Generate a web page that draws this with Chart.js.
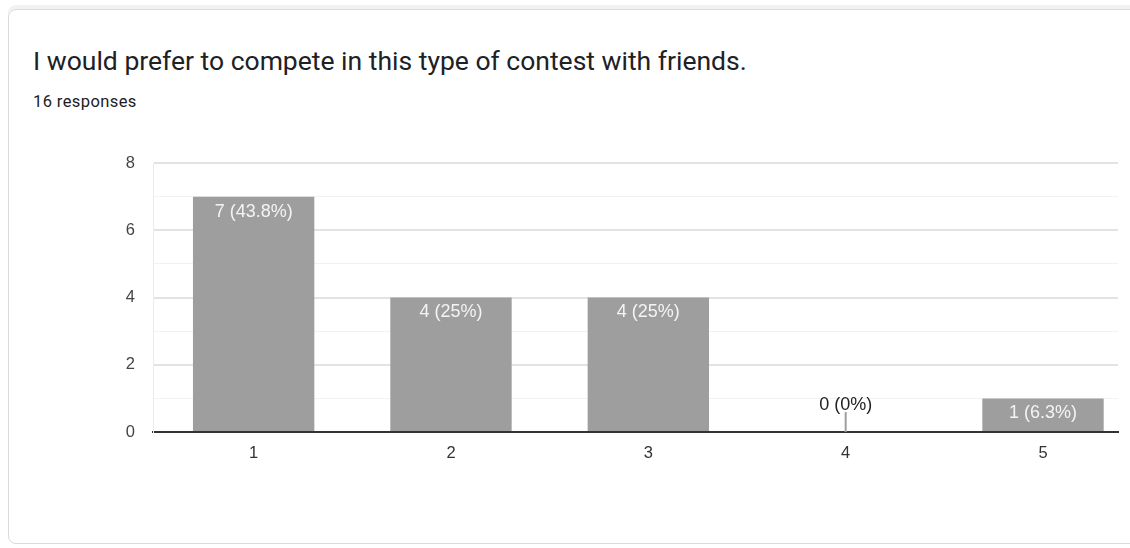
<!DOCTYPE html>
<html>
<head>
<meta charset="utf-8">
<script src="https://cdn.jsdelivr.net/npm/chart.js@4/dist/chart.umd.min.js"></script>
<style>
  html, body { margin: 0; padding: 0; background: #fff; overflow: hidden; }
  body { width: 1130px; height: 548px; position: relative; }
  .card {
    position: absolute; left: 8px; top: 9px; width: 1140px; height: 535px;
    border: 1px solid #dadada; border-radius: 8px; box-sizing: border-box;
    box-shadow: 0 -4px 0 #f2f2f2;
  }
  .titulo {
    position: absolute; left: 33px; top: 45px; margin: 0;
    font: 400 26.5px Roboto, sans-serif; color: #202124; white-space: nowrap;
  }
  .respostas {
    position: absolute; left: 33px; top: 92px; margin: 0;
    font: 400 16.5px Roboto, sans-serif; letter-spacing: 0.4px; color: #202124;
  }
  #grafico { position: absolute; left: 0; top: 0; }
</style>
</head>
<body>
<div class="card"></div>
<p class="titulo">I would prefer to compete in this type of contest with friends.</p>
<p class="respostas">16 responses</p>
<canvas id="grafico" width="1130" height="548"></canvas>
<script>
// dados da pergunta
var categorias = ['1', '2', '3', '4', '5'];
var respostas = [7, 4, 4, 0, 1];
var totalRespostas = 16;
var ticksY = [0, 2, 4, 6, 8];

var pontos = categorias.map(function (c, i) {
    return { x: Number(c), y: respostas[i] };
});

function rotulo(v) {
    var pct = Math.round(v / totalRespostas * 1000) / 10;
    return v + ' (' + pct + '%)';
}

// desenha "n (x%)" dentro da barra, ou acima dela quando a barra é zero
var rotulosBarras = {
    id: 'rotulosBarras',
    afterDatasetsDraw: function (chart) {
        var ctx = chart.ctx;
        var meta = chart.getDatasetMeta(0);
        ctx.save();
        ctx.font = '18px "Liberation Sans", Arial, sans-serif';
        ctx.textAlign = 'center';
        ctx.textBaseline = 'middle';
        meta.data.forEach(function (bar, i) {
            var v = respostas[i];
            if (v > 0) {
                ctx.fillStyle = '#f4f4f4';
                ctx.fillText(rotulo(v), bar.x, bar.y + 15);
            } else {
                ctx.strokeStyle = '#9e9e9e';
                ctx.lineWidth = 2;
                ctx.beginPath();
                ctx.moveTo(bar.x, bar.y);
                ctx.lineTo(bar.x, bar.y - 20);
                ctx.stroke();
                ctx.fillStyle = '#222';
                ctx.fillText(rotulo(v), bar.x, bar.y - 27);
            }
        });
        ctx.restore();
    }
};

var ctx = document.getElementById('grafico').getContext('2d');

new Chart(ctx, {
    type: 'bar',
    data: {
        datasets: [{
            data: pontos,
            backgroundColor: '#9e9e9e',
            barPercentage: 0.615,
            categoryPercentage: 1
        }]
    },
    options: {
        responsive: false,
        animation: false,
        layout: { padding: { left: 110, right: 12, top: 163, bottom: 76 } },
        plugins: {
            legend: { display: false },
            tooltip: { enabled: false }
        },
        scales: {
            x: {
                type: 'linear',
                offset: false,
                min: 0.49,
                max: 5.38,
                afterBuildTicks: function (scale) {
                    scale.ticks = categorias.map(function (c) { return { value: Number(c) }; });
                },
                afterFit: function (scale) { scale.height = 40; },
                grid: { display: false, drawTicks: false },
                border: { display: true, color: '#333', width: 2 },
                ticks: {
                    padding: 12,
                    color: '#333',
                    font: { size: 16.5, family: '"Liberation Sans", Arial, sans-serif' },
                    callback: function (v) { return String(v); }
                }
            },
            y: {
                min: 0,
                max: 8,
                afterFit: function (scale) { scale.width = 43; },
                ticks: {
                    stepSize: 1,
                    padding: 18,
                    color: '#444',
                    font: { size: 16.5, family: '"Liberation Sans", Arial, sans-serif' },
                    callback: function (v) { return ticksY.indexOf(v) >= 0 ? v : ''; }
                },
                grid: {
                    drawTicks: false,
                    color: function (c) {
                        if (c.tick.value === 0) return '#333';
                        return c.tick.value % 2 === 0 ? '#e3e3e3' : '#f2f2f2';
                    },
                    lineWidth: function (c) { return c.tick.value % 2 === 0 ? 2 : 1; }
                },
                border: { display: true, color: '#ececec', width: 1 }
            }
        }
    },
    plugins: [rotulosBarras]
});
</script>
</body>
</html>
